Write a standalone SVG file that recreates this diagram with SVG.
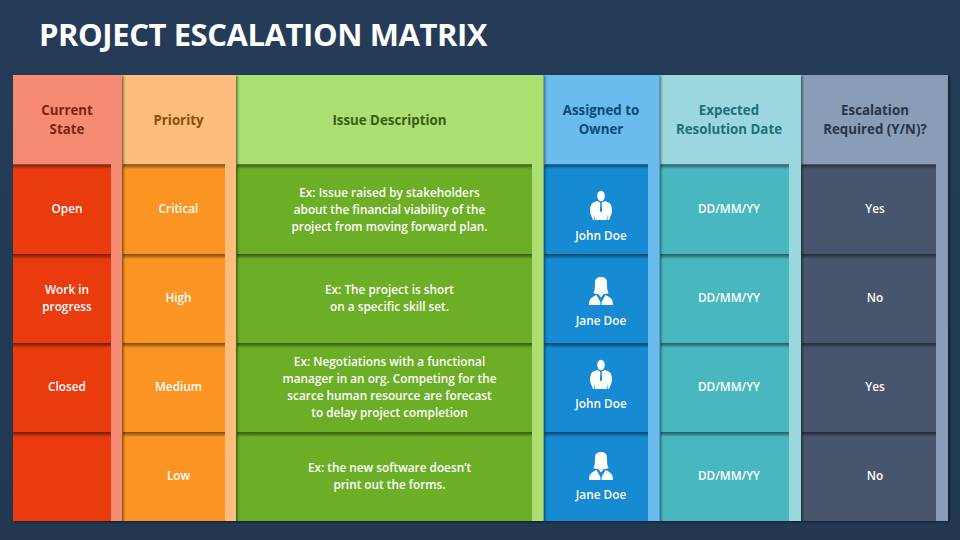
<svg xmlns="http://www.w3.org/2000/svg" width="960" height="540" viewBox="0 0 960 540">
<style>
text{font-family:"Open Sans","Noto Sans","Liberation Sans",sans-serif;text-anchor:middle}
.t{font-size:11.8px;font-weight:600;fill:#fff}
.h{font-size:13.3px;font-weight:700}
.title{font-size:31px;font-weight:700;fill:#fff;text-anchor:start;letter-spacing:-.42px}
.col{filter:url(#sh)}
.ic{fill:#fff}
</style>
<defs>
<linearGradient id="bg" x1="0" y1="0" x2="0" y2="1"><stop offset="0" stop-color="#253c58"/><stop offset="1" stop-color="#223851"/></linearGradient>
<linearGradient id="strip" x1="0" y1="0" x2="0" y2="1"><stop offset="0" stop-color="#000" stop-opacity=".5"/><stop offset=".45" stop-color="#000" stop-opacity=".3"/><stop offset="1" stop-color="#000" stop-opacity="0"/></linearGradient>
<filter id="sh" x="-5%" y="-5%" width="115%" height="110%"><feDropShadow dx="1.500" dy="1" stdDeviation="1.200" flood-color="#000" flood-opacity=".5"/></filter>
<g id="man">
<ellipse cx="0" cy="-17" rx="3.800" ry="5.300"/>
<path d="M-4-12 0-10 4-12 8.500-10C10.500-8.500 11-5 11-1.500 11-1 10.500 1 9 4.500L8 7H-8L-9 4.500C-10.500 1-11-1-11-1.500-11-5-10.500-8.500-8.500-10Z"/>
<path fill="#178ad2" d="M-1-10.500H1L.7-8.500 1.100-2 0-.5-1.100-2-.7-8.500ZM-6.200 1-5.800 7H-6.700ZM6.200 1 5.800 7H6.700Z"/>
</g>
<g id="woman">
<path d="M0-21C4.500-21 6-18.500 6-15 6-10 6.200-7.500 7.500-5 5.500-4 4-3.800 2.800-4L0-.5-2.800-4C-4-3.800-5.500-4-7.500-5-6.200-7.500-6-10-6-15-6-18.500-4.500-21 0-21Z"/>
<path d="M-4.500-3-.6 4V7H-12C-12 2-10.500-.5-4.500-3ZM4.500-3 .6 4V7H12C12 2 10.500-.5 4.500-3Z"/>
</g>
</defs>
<rect width="960" height="540" fill="url(#bg)"/>
<text class="title" x="39" y="46">PROJECT ESCALATION MATRIX</text>

<g id="col-escalation" class="col">
<rect x="801" y="75" width="147" height="446" fill="#8a9db8"/>
<rect x="801" y="165" width="135" height="356" fill="#47566c"/>
</g>
<g id="col-date" class="col">
<rect x="659.500" y="75" width="141.500" height="446" fill="#9ad7de"/>
<rect x="659.500" y="165" width="129.500" height="356" fill="#4ab7bf"/>
</g>
<g id="col-owner" class="col">
<rect x="543.500" y="75" width="116" height="446" fill="#6abbee"/>
<rect x="543.500" y="165" width="104.500" height="356" fill="#178ad2"/>
</g>
<g id="col-issue" class="col">
<rect x="236" y="75" width="307.500" height="446" fill="#abdf72"/>
<rect x="236" y="165" width="296" height="356" fill="#6cae27"/>
</g>
<g id="col-priority" class="col">
<rect x="122" y="75" width="114" height="446" fill="#fdbd7b"/>
<rect x="122" y="165" width="103" height="356" fill="#fa9423"/>
</g>
<g id="col-state" class="col">
<rect x="13" y="75" width="109" height="446" fill="#f68b73"/>
<rect x="13" y="165" width="98" height="356" fill="#e93a11"/>
</g>

<g id="row-shadows" fill="url(#strip)">
<rect x="13" y="164" width="98" height="5"/><rect x="13" y="254" width="98" height="5"/><rect x="13" y="343" width="98" height="5"/><rect x="13" y="432" width="98" height="5"/>
<rect x="123" y="164" width="102" height="5"/><rect x="123" y="254" width="102" height="5"/><rect x="123" y="343" width="102" height="5"/><rect x="123" y="432" width="102" height="5"/>
<rect x="237" y="164" width="295" height="5"/><rect x="237" y="254" width="295" height="5"/><rect x="237" y="343" width="295" height="5"/><rect x="237" y="432" width="295" height="5"/>
<rect x="544.500" y="164" width="103.500" height="5"/><rect x="544.500" y="254" width="103.500" height="5"/><rect x="544.500" y="343" width="103.500" height="5"/><rect x="544.500" y="432" width="103.500" height="5"/>
<rect x="660.500" y="164" width="128.500" height="5"/><rect x="660.500" y="254" width="128.500" height="5"/><rect x="660.500" y="343" width="128.500" height="5"/><rect x="660.500" y="432" width="128.500" height="5"/>
<rect x="802" y="164" width="134" height="5"/><rect x="802" y="254" width="134" height="5"/><rect x="802" y="343" width="134" height="5"/><rect x="802" y="432" width="134" height="5"/>
</g>

<g id="headers" class="h">
<text x="67" y="115" fill="#7c2210">Current</text><text x="67" y="134" fill="#7c2210">State</text>
<text x="178.500" y="125" fill="#8a4e0c">Priority</text>
<text x="389.500" y="125" fill="#3a5c18">Issue Description</text>
<text x="601" y="115" fill="#0d4a78">Assigned to</text><text x="601" y="134" fill="#0d4a78">Owner</text>
<text x="729" y="115" fill="#1f6f76">Expected</text><text x="729" y="134" fill="#1f6f76">Resolution Date</text>
<text x="875" y="115" fill="#27344a">Escalation</text><text x="875" y="134" fill="#27344a">Required (Y/N)?</text>
</g>

<g id="state" class="t">
<text x="67" y="213">Open</text>
<text x="67" y="294">Work in</text><text x="67" y="311">progress</text>
<text x="67" y="391">Closed</text>
</g>
<g id="priority" class="t">
<text x="178.500" y="213">Critical</text>
<text x="178.500" y="302">High</text>
<text x="178.500" y="391">Medium</text>
<text x="178.500" y="480">Low</text>
</g>
<g id="issues" class="t">
<text x="389.500" y="197">Ex: Issue raised by stakeholders</text>
<text x="389.500" y="214">about the financial viability of the</text>
<text x="389.500" y="231">project from moving forward plan.</text>
<text x="389.500" y="294">Ex: The project is short</text>
<text x="389.500" y="311">on a specific skill set.</text>
<text x="389.500" y="366">Ex: Negotiations with a functional</text>
<text x="389.500" y="383">manager in an org. Competing for the</text>
<text x="389.500" y="400">scarce human resource are forecast</text>
<text x="389.500" y="417">to delay project completion</text>
<text x="389.500" y="472">Ex: the new software doesn’t</text>
<text x="389.500" y="489">print out the forms.</text>
</g>
<g id="owners">
<use href="#man" class="ic" x="601" y="213"/>
<use href="#woman" class="ic" x="601" y="298"/>
<use href="#man" class="ic" x="601" y="382"/>
<use href="#woman" class="ic" x="601" y="473"/>
<g class="t">
<text x="601" y="240">John Doe</text>
<text x="601" y="325">Jane Doe</text>
<text x="601" y="408">John Doe</text>
<text x="601" y="499">Jane Doe</text>
</g>
</g>
<g id="dates" class="t">
<text x="729" y="213">DD/MM/YY</text><text x="729" y="302">DD/MM/YY</text><text x="729" y="391">DD/MM/YY</text><text x="729" y="480">DD/MM/YY</text>
</g>
<g id="escalation" class="t">
<text x="875" y="213">Yes</text><text x="875" y="302">No</text><text x="875" y="391">Yes</text><text x="875" y="480">No</text>
</g>
</svg>
